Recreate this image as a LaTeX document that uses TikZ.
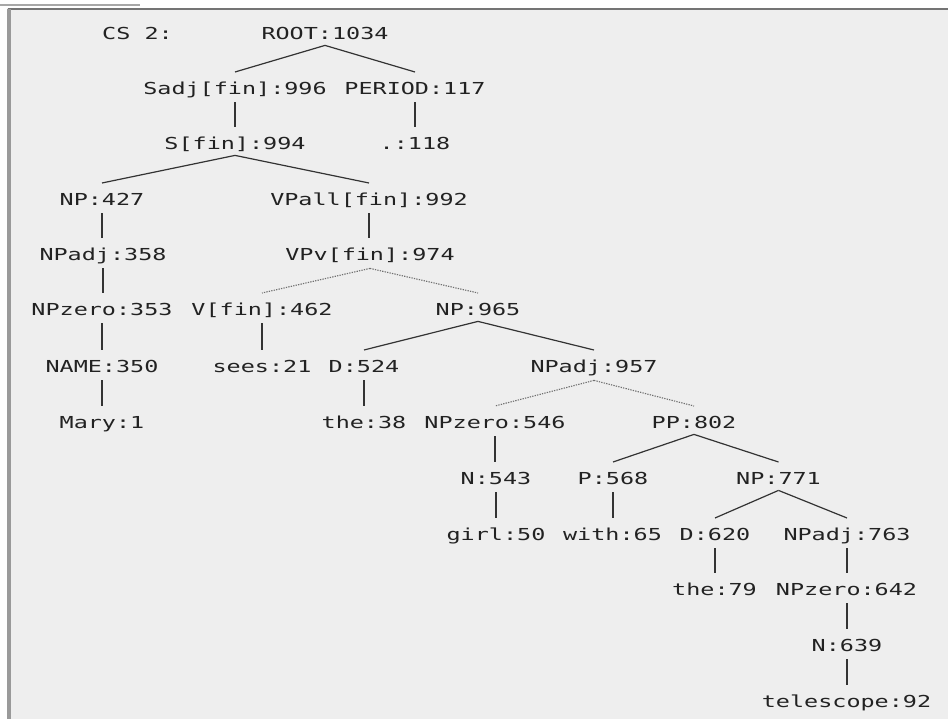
\documentclass[tikz,border=0pt]{standalone}
\usepackage{fontspec}
\usetikzlibrary{calc}
\newfontfamily\pxfont[FakeStretch=1.42]{DejaVu Sans Mono}
\definecolor{bg}{HTML}{EEEEEE}
\definecolor{txt}{HTML}{222222}
\definecolor{ln}{HTML}{333333}
\definecolor{dotc}{HTML}{6E6E6E}
\newcommand\vedge[2]{\draw[vline] ($(#1.south)+(0,5)$) -- ($(#1.south |- #2.north)+(0,-10)$);}
\newcommand\dedge[2]{\draw[dline] ($(#1.south)+(0,3)$) -- ($(#2.north)+(0,-10)$);}
\newcommand\pedge[2]{\draw[pline] ($(#1.south)+(0,5)$) -- ($(#2.north)+(0,-10)$);}
\begin{document}
\begin{tikzpicture}[x=1pt,y=-1pt,
  lab/.style={font=\pxfont\fontsize{16.5}{16.5}\selectfont, text=txt, inner sep=0pt, anchor=north, text height=12pt, text depth=3pt},
  vline/.style={draw=ln, line width=2pt},
  dline/.style={draw=ln, line width=1.2pt},
  pline/.style={draw=dotc, line width=1.1pt, dash pattern=on 1.3pt off 1.2pt}]
% background and frame
\fill[bg] (0,0) rectangle (948,719);
\useasboundingbox (0,0) rectangle (948,719);
\fill[white!95!bg] (0,0) rectangle (948,8);
\fill[black!35] (0,4) rectangle (140,6);
\fill[black!55] (8,8) rectangle (948,10.5);
\fill[white!96!bg] (0,8) rectangle (7,719);
\fill[black!40] (7,9) rectangle (10.5,719);
% row 0
\node[lab] (cs) at (137.5,27) {CS 2:};
\node[lab] (root) at (325,27) {ROOT:1034};
% row 1
\node[lab] (sadj) at (235,82) {Sadj[fin]:996};
\node[lab] (period) at (415,82) {PERIOD:117};
% row 2
\node[lab] (sfin) at (235,137) {S[fin]:994};
\node[lab] (dot) at (415,137) {.:118};
% row 3
\node[lab] (np427) at (102,193) {NP:427};
\node[lab] (vpall) at (369,193) {VPall[fin]:992};
% row 4
\node[lab] (npadj358) at (103,248) {NPadj:358};
\node[lab] (vpv) at (370,248) {VPv[fin]:974};
% row 5
\node[lab] (npzero353) at (102,303) {NPzero:353};
\node[lab] (vfin) at (262,303) {V[fin]:462};
\node[lab] (np965) at (478,303) {NP:965};
% row 6
\node[lab] (name) at (102,360) {NAME:350};
\node[lab] (sees) at (262,360) {sees:21};
\node[lab] (d524) at (364,360) {D:524};
\node[lab] (npadj957) at (594,360) {NPadj:957};
% row 7
\node[lab] (mary) at (102,416) {Mary:1};
\node[lab] (the38) at (364,416) {the:38};
\node[lab] (npzero546) at (495,416) {NPzero:546};
\node[lab] (pp) at (694,416) {PP:802};
% row 8
\node[lab] (n543) at (496,472) {N:543};
\node[lab] (p568) at (613,472) {P:568};
\node[lab] (np771) at (778.5,472) {NP:771};
% row 9
\node[lab] (girl) at (496,528) {girl:50};
\node[lab] (with) at (612.5,528) {with:65};
\node[lab] (d620) at (715,528) {D:620};
\node[lab] (npadj763) at (847,528) {NPadj:763};
% row 10
\node[lab] (the79) at (714.5,583) {the:79};
\node[lab] (npzero642) at (846.5,583) {NPzero:642};
% row 11
\node[lab] (n639) at (847,639) {N:639};
% row 12
\node[lab] (tele) at (846.5,695) {telescope:92};
% edges
\dedge{root}{sadj}
\dedge{root}{period}
\vedge{sadj}{sfin}
\vedge{period}{dot}
\dedge{sfin}{np427}
\dedge{sfin}{vpall}
\vedge{np427}{npadj358}
\vedge{npadj358}{npzero353}
\vedge{npzero353}{name}
\vedge{name}{mary}
\vedge{vpall}{vpv}
\pedge{vpv}{vfin}
\pedge{vpv}{np965}
\vedge{vfin}{sees}
\dedge{np965}{d524}
\dedge{np965}{npadj957}
\vedge{d524}{the38}
\pedge{npadj957}{npzero546}
\pedge{npadj957}{pp}
\vedge{npzero546}{n543}
\vedge{n543}{girl}
\dedge{pp}{p568}
\dedge{pp}{np771}
\vedge{p568}{with}
\dedge{np771}{d620}
\dedge{np771}{npadj763}
\vedge{d620}{the79}
\vedge{npadj763}{npzero642}
\vedge{npzero642}{n639}
\vedge{n639}{tele}
\end{tikzpicture}
\end{document}
